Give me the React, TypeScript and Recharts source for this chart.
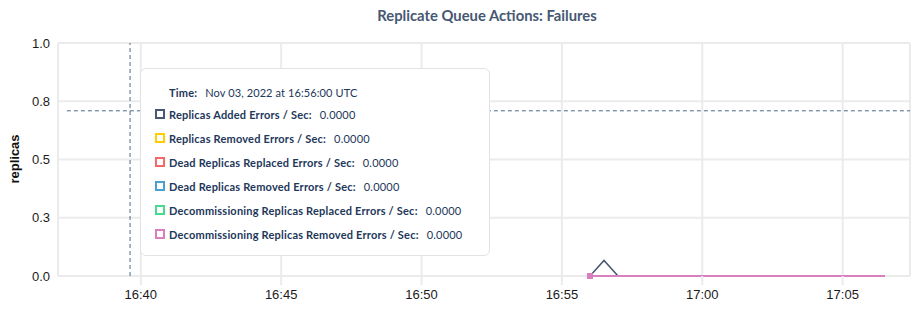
import React from "react";
import {
  LineChart,
  Line,
  XAxis,
  YAxis,
  CartesianGrid,
  Tooltip,
  ReferenceLine,
} from "recharts";

// 30s samples, 2022-11-03 UTC
const sampleTimes = [
  "16:56:00", "16:56:30", "16:57:00", "16:57:30", "16:58:00", "16:58:30",
  "16:59:00", "16:59:30", "17:00:00", "17:00:30", "17:01:00", "17:01:30",
  "17:02:00", "17:02:30", "17:03:00", "17:03:30", "17:04:00", "17:04:30",
  "17:05:00", "17:05:30", "17:06:00", "17:06:30",
];

const addedErrors = [0, 0.067, 0, 0, 0, 0, 0, 0, 0, 0, 0, 0, 0, 0, 0, 0, 0, 0, 0, 0, 0, 0];
const removedErrors = [0, 0, 0, 0, 0, 0, 0, 0, 0, 0, 0, 0, 0, 0, 0, 0, 0, 0, 0, 0, 0, 0];
const deadReplacedErrors = [0, 0, 0, 0, 0, 0, 0, 0, 0, 0, 0, 0, 0, 0, 0, 0, 0, 0, 0, 0, 0, 0];
const deadRemovedErrors = [0, 0, 0, 0, 0, 0, 0, 0, 0, 0, 0, 0, 0, 0, 0, 0, 0, 0, 0, 0, 0, 0];
const decomReplacedErrors = [0, 0, 0, 0, 0, 0, 0, 0, 0, 0, 0, 0, 0, 0, 0, 0, 0, 0, 0, 0, 0, 0];
const decomRemovedErrors = [0, 0, 0, 0, 0, 0, 0, 0, 0, 0, 0, 0, 0, 0, 0, 0, 0, 0, 0, 0, 0, 0];

const xTickLabels = ["16:40", "16:45", "16:50", "16:55", "17:00", "17:05"];
const yTicks = [0, 0.25, 0.5, 0.75, 1];

// hover crosshair position
const crossTime = "16:39:37";
const crossStartTime = "16:37:22";
const crossValue = 0.709;

const xDomainTimes = ["16:37:03", "17:07:24"];

const toMs = (hms: string) => {
  const [h, m, s = "0"] = hms.split(":");
  return Date.UTC(2022, 10, 3, Number(h), Number(m), Number(s));
};

const series = [
  { key: "added", name: "Replicas Added Errors / Sec", color: "#475872", values: addedErrors },
  { key: "removed", name: "Replicas Removed Errors / Sec", color: "#FFCD02", values: removedErrors },
  { key: "deadReplaced", name: "Dead Replicas Replaced Errors / Sec", color: "#F16969", values: deadReplacedErrors },
  { key: "deadRemoved", name: "Dead Replicas Removed Errors / Sec", color: "#4E9FD1", values: deadRemovedErrors },
  { key: "decomReplaced", name: "Decommissioning Replicas Replaced Errors / Sec", color: "#49D990", values: decomReplacedErrors },
  { key: "decomRemoved", name: "Decommissioning Replicas Removed Errors / Sec", color: "#D77FBF", values: decomRemovedErrors },
];

const rows = sampleTimes.map((t, i) => {
  const row: Record<string, number> = { time: toMs(t) };
  series.forEach((s) => (row[s.key] = s.values[i]));
  return row;
});

const MONTHS = ["Jan", "Feb", "Mar", "Apr", "May", "Jun", "Jul", "Aug", "Sep", "Oct", "Nov", "Dec"];
const pad = (n: number) => String(n).padStart(2, "0");

const fmtTick = (ms: number) => {
  const d = new Date(ms);
  return `${pad(d.getUTCHours())}:${pad(d.getUTCMinutes())}`;
};

const fmtFull = (ms: number) => {
  const d = new Date(ms);
  return `${MONTHS[d.getUTCMonth()]} ${pad(d.getUTCDate())}, ${d.getUTCFullYear()} at ${pad(
    d.getUTCHours()
  )}:${pad(d.getUTCMinutes())}:${pad(d.getUTCSeconds())} UTC`;
};

const FONT = "Lato, 'Noto Sans', sans-serif";
const AXIS_FONT = "'Liberation Sans', Arial, sans-serif";
const TEXT_DARK = "#22375a";

const TooltipBox = ({ payload, label }: any) => {
  if (!payload || !payload.length) return null;
  return (
    <div
      style={{
        width: 350,
        height: 188,
        boxSizing: "border-box",
        background: "#fff",
        border: "1px solid #e2e2e2",
        borderRadius: 6,
        padding: "13px 0 0 14px",
        fontFamily: FONT,
        fontSize: 11,
        color: TEXT_DARK,
      }}
    >
      <div style={{ marginLeft: 14, height: 20, display: "flex", alignItems: "center" }}>
        <span style={{ fontWeight: 700, letterSpacing: 0.2, marginRight: 8 }}>Time:</span>
        <span style={{ letterSpacing: 0.1 }}>{fmtFull(label)}</span>
      </div>
      {payload.map((p: any) => (
        <div key={p.dataKey} style={{ height: 24, display: "flex", alignItems: "center" }}>
          <span
            style={{
              width: 10,
              height: 10,
              boxSizing: "border-box",
              border: `2px solid ${p.color}`,
              marginRight: 4,
            }}
          />
          <span style={{ fontWeight: 700, letterSpacing: 0.2, marginRight: 8 }}>{p.name}:</span>
          <span style={{ letterSpacing: 0.2 }}>{Number(p.value).toFixed(4)}</span>
        </div>
      ))}
    </div>
  );
};

const SquareDot = (props: any) => {
  const { cx, cy } = props;
  if (cx == null || cy == null) return <g />;
  return <rect x={cx - 3} y={cy - 3} width={6} height={6} fill="#D77FBF" />;
};

const App = () => {
  return (
    <div style={{ position: "relative", width: 924, height: 324, background: "#fff" }}>
      <style>{`body{margin:0}`}</style>
      <div
        style={{
          position: "absolute",
          top: 6,
          left: 0,
          width: 974,
          textAlign: "center",
          fontFamily: FONT,
          fontWeight: 700,
          fontSize: 14.8,
          color: "#475872",
        }}
      >
        Replicate Queue Actions: Failures
      </div>
      <LineChart
        width={924}
        height={324}
        data={rows}
        margin={{ top: 43, right: 14, left: 0, bottom: 18 }}
      >
        <CartesianGrid stroke="#ebebeb" strokeWidth={2} />
        <XAxis
          dataKey="time"
          type="number"
          scale="time"
          domain={[toMs(xDomainTimes[0]), toMs(xDomainTimes[1])]}
          ticks={xTickLabels.map(toMs)}
          tickFormatter={fmtTick}
          axisLine={false}
          tickLine={{ stroke: "#ebebeb", strokeWidth: 2 }}
          tickSize={9}
          tickMargin={5}
          height={30}
          tick={{ fill: "#1b1b1b", fontSize: 13, fontFamily: AXIS_FONT }}
        />
        <YAxis
          width={58}
          domain={[0, 1]}
          ticks={yTicks}
          tickFormatter={(v: number) => v.toFixed(1)}
          axisLine={false}
          tickLine={false}
          tick={{ fill: "#1b1b1b", fontSize: 13, fontFamily: AXIS_FONT }}
          label={{
            content: () => (
              <text
                x={14}
                y={159}
                transform="rotate(-90 14 159)"
                textAnchor="middle"
                dominantBaseline="central"
                fontFamily={AXIS_FONT}
                fontWeight={700}
                fontSize={13}
                fill="#111"
              >
                replicas
              </text>
            ),
          }}
        />
        <ReferenceLine x={toMs(crossTime)} stroke="#4f6a86" strokeDasharray="4 3" />
        <ReferenceLine
          segment={[
            { x: toMs(crossStartTime), y: crossValue },
            { x: toMs(xDomainTimes[1]), y: crossValue },
          ]}
          stroke="#4f6a86"
          strokeDasharray="4 3"
        />
        <Tooltip
          active
          defaultIndex={0}
          cursor={false}
          position={{ x: 140, y: 68 }}
          allowEscapeViewBox={{ x: true, y: true }}
          wrapperStyle={{ outline: "none" }}
          content={<TooltipBox />}
          isAnimationActive={false}
        />
        {series.map((s) => (
          <Line
            key={s.key}
            dataKey={s.key}
            name={s.name}
            stroke={s.color}
            strokeWidth={s.key === "decomRemoved" ? 2 : 1.5}
            dot={false}
            activeDot={s.key === "decomRemoved" ? <SquareDot /> : false}
            isAnimationActive={false}
          />
        ))}
      </LineChart>
    </div>
  );
};

export default App;
